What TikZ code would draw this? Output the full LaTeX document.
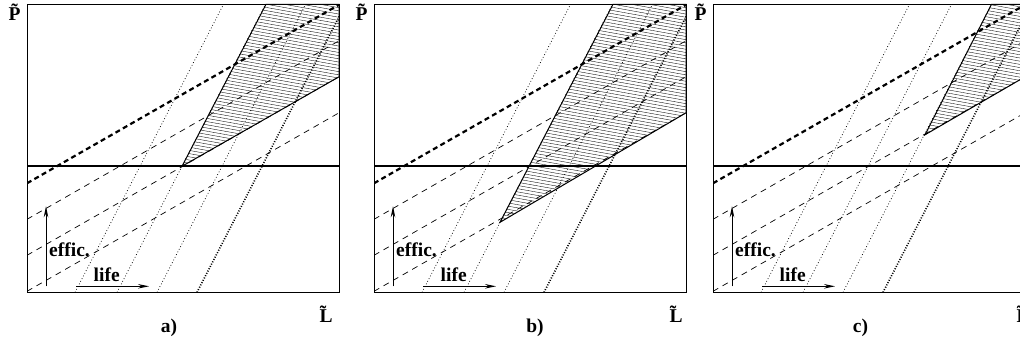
\documentclass[tikz,border=0pt]{standalone}
\usepackage{fontspec}
\setmainfont{Liberation Serif}
\usetikzlibrary{arrows.meta}

\begin{document}
\begin{tikzpicture}[
    x=1pt, y=1pt,
    frame/.style={line width=0.9pt},
    level/.style={line width=1.8pt},
    bound/.style={line width=1pt},
    hatch/.style={line width=0.35pt},
    effline/.style={line width=0.7pt, dash pattern=on 6pt off 5pt},
    efflead/.style={line width=2.2pt, dash pattern=on 5pt off 3.5pt},
    lifeline/.style={line width=0.7pt, dash pattern=on 0.8pt off 2.2pt},
    lifelead/.style={line width=1.6pt, dash pattern=on 1pt off 1.6pt},
    arrow/.style={-{Stealth[length=11pt,width=4.5pt]}, line width=0.9pt},
    lbl/.style={font=\fontsize{19.5}{22}\selectfont\bfseries, inner sep=0pt},
]
\useasboundingbox (0,0) rectangle (1020,345);
\clip (0,0) rectangle (1020,345);

% panel / apex of region / top and right corners / label places
\foreach \name/\px/\ax/\ay/\tx/\ry/\Lx/\cx in
    {a/27/155/126/239/215.5/299/142,
     b/374/126/70/239/179.5/302/161,
     c/713/212/157.5/278.5/215.5/310/147.5} {
  \begin{scope}[shift={(\px,52.7)}]
    % hatched region
    \begin{scope}
      \clip (\ax,\ay) -- (\tx,288) -- (312,288) -- (312,\ry) -- cycle;
      \foreach \k in {0,...,115}
        \draw[hatch] (0,{\k*3.2-5}) -- (312,{\k*3.2-61});
    \end{scope}
    \begin{scope}
      \clip (0,0) rectangle (312,288);
      \foreach \c in {48,90,130}
        \draw[lifeline] (\c,0) -- ({\c+148.5},288);
      \draw[lifelead] (170,0) -- (318.5,288);
      \foreach \b in {73,37,1}
        \draw[effline] (0,\b) -- (312,{\b+178.5});
      \draw[efflead] (0,109) -- (312,287.5);
    \end{scope}
    \draw[level] (0,126) -- (312,126);
    \draw[frame] (0,0) rectangle (312,288);
    \draw[bound] (\ax,\ay) -- (\tx,288) -- (312,288) -- (312,\ry) -- cycle;

    \coordinate (e0-\name) at (19,6);
    \coordinate (e1-\name) at (19,86);
    \coordinate (l0-\name) at (49,6);
    \coordinate (l1-\name) at (122,6);
    \draw[arrow] (e0-\name) -- (e1-\name);
    \draw[arrow] (l0-\name) -- (l1-\name);
    \node[lbl, anchor=base west] (eff-\name) at (22,35.6) {effic.};
    \node[lbl, anchor=base west] (life-\name) at (66.5,10.6) {life};

    \node[lbl, anchor=base] (P-\name) at (-12.5,271.6) {\~{P}};
    \node[lbl, anchor=base] (L-\name) at (\Lx,-30.4) {\~{L}};
    \node[lbl, anchor=base] (cap-\name) at (\cx,-40.7) {\name)};
  \end{scope}
}
\end{tikzpicture}
\end{document}
